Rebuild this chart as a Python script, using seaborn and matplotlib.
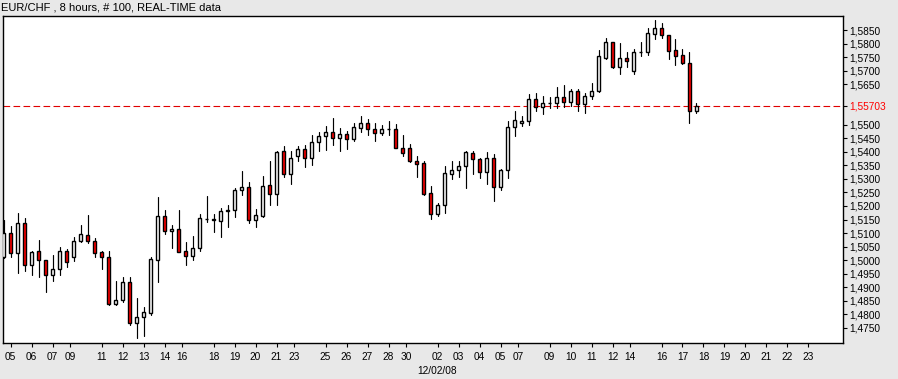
import numpy as np
import pandas as pd
import matplotlib
matplotlib.use("Agg")
import matplotlib.pyplot as plt
import seaborn as sns

# ---------------- data (EUR/CHF, 8-hour candles, 100 bars) ----------------
opens = [1.5011, 1.5100, 1.5025, 1.5137, 1.4980, 1.5033, 1.5000, 1.4943, 1.4966, 1.5033,
         1.5013, 1.5070, 1.5093, 1.5070, 1.5029, 1.5011, 1.4839, 1.4854, 1.4918, 1.4766,
         1.4788, 1.4806, 1.4999, 1.5164, 1.5106, 1.5114, 1.5032, 1.5016, 1.5044, 1.5151,
         1.5150, 1.5146, 1.5183, 1.5186, 1.5258, 1.5270, 1.5149, 1.5164, 1.5277, 1.5244,
         1.5402, 1.5319, 1.5386, 1.5410, 1.5377, 1.5437, 1.5458, 1.5473, 1.5451, 1.5466,
         1.5447, 1.5488, 1.5507, 1.5484, 1.5470, 1.5484, 1.5484, 1.5414, 1.5414, 1.5367,
         1.5358, 1.5247, 1.5169, 1.5203, 1.5319, 1.5332, 1.5347, 1.5397, 1.5373, 1.5327,
         1.5377, 1.5272, 1.5334, 1.5492, 1.5507, 1.5514, 1.5595, 1.5566, 1.5581, 1.5581,
         1.5603, 1.5585, 1.5627, 1.5577, 1.5606, 1.5624, 1.5749, 1.5808, 1.5715, 1.5749,
         1.5699, 1.5769, 1.5769, 1.5837, 1.5859, 1.5834, 1.5775, 1.5757, 1.5729, 1.5550]
highs = [1.5149, 1.5127, 1.5174, 1.5155, 1.5034, 1.5075, 1.5000, 1.5019, 1.5048, 1.5040,
         1.5085, 1.5130, 1.5167, 1.5081, 1.5035, 1.5032, 1.4924, 1.4937, 1.4937, 1.4859,
         1.4828, 1.5011, 1.5232, 1.5186, 1.5129, 1.5186, 1.5067, 1.5089, 1.5170, 1.5237,
         1.5170, 1.5192, 1.5204, 1.5265, 1.5330, 1.5289, 1.5190, 1.5312, 1.5366, 1.5402,
         1.5423, 1.5402, 1.5423, 1.5426, 1.5462, 1.5475, 1.5494, 1.5525, 1.5488, 1.5476,
         1.5507, 1.5534, 1.5521, 1.5507, 1.5499, 1.5514, 1.5504, 1.5463, 1.5430, 1.5386,
         1.5365, 1.5274, 1.5210, 1.5346, 1.5365, 1.5367, 1.5402, 1.5405, 1.5378, 1.5400,
         1.5393, 1.5337, 1.5513, 1.5552, 1.5534, 1.5615, 1.5618, 1.5605, 1.5603, 1.5640,
         1.5649, 1.5631, 1.5633, 1.5618, 1.5655, 1.5775, 1.5822, 1.5808, 1.5801, 1.5770,
         1.5781, 1.5805, 1.5859, 1.5886, 1.5875, 1.5834, 1.5818, 1.5781, 1.5769, 1.5581]
lows = [1.5007, 1.5013, 1.4954, 1.4958, 1.4943, 1.4939, 1.4883, 1.4924, 1.4943, 1.4976,
        1.4995, 1.5065, 1.5062, 1.5011, 1.4967, 1.4834, 1.4834, 1.4846, 1.4760, 1.4710,
        1.4719, 1.4797, 1.4920, 1.5097, 1.5044, 1.5031, 1.4983, 1.5000, 1.5035, 1.5142,
        1.5102, 1.5087, 1.5124, 1.5161, 1.5240, 1.5136, 1.5124, 1.5161, 1.5205, 1.5205,
        1.5309, 1.5281, 1.5368, 1.5344, 1.5350, 1.5402, 1.5408, 1.5424, 1.5402, 1.5411,
        1.5441, 1.5472, 1.5461, 1.5439, 1.5463, 1.5461, 1.5414, 1.5383, 1.5361, 1.5309,
        1.5242, 1.5151, 1.5164, 1.5173, 1.5299, 1.5309, 1.5268, 1.5319, 1.5305, 1.5283,
        1.5220, 1.5259, 1.5305, 1.5457, 1.5494, 1.5500, 1.5553, 1.5540, 1.5562, 1.5562,
        1.5566, 1.5569, 1.5550, 1.5544, 1.5594, 1.5621, 1.5745, 1.5711, 1.5687, 1.5715,
        1.5687, 1.5754, 1.5758, 1.5816, 1.5822, 1.5745, 1.5723, 1.5724, 1.5507, 1.5542]
closes = [1.5100, 1.5025, 1.5137, 1.4980, 1.5029, 1.5000, 1.4943, 1.4966, 1.5033, 1.4992,
          1.5070, 1.5097, 1.5069, 1.5025, 1.5011, 1.4838, 1.4853, 1.4918, 1.4767, 1.4788,
          1.4807, 1.5003, 1.5164, 1.5106, 1.5115, 1.5031, 1.5016, 1.5045, 1.5155, 1.5153,
          1.5151, 1.5182, 1.5184, 1.5258, 1.5270, 1.5149, 1.5166, 1.5273, 1.5244, 1.5399,
          1.5319, 1.5377, 1.5410, 1.5377, 1.5435, 1.5460, 1.5473, 1.5451, 1.5466, 1.5447,
          1.5492, 1.5507, 1.5484, 1.5470, 1.5484, 1.5485, 1.5414, 1.5395, 1.5368, 1.5355,
          1.5245, 1.5169, 1.5203, 1.5321, 1.5334, 1.5347, 1.5398, 1.5373, 1.5327, 1.5377,
          1.5272, 1.5334, 1.5492, 1.5519, 1.5514, 1.5595, 1.5566, 1.5581, 1.5582, 1.5603,
          1.5585, 1.5627, 1.5577, 1.5608, 1.5627, 1.5755, 1.5808, 1.5713, 1.5749, 1.5736,
          1.5768, 1.5770, 1.5838, 1.5859, 1.5832, 1.5773, 1.5754, 1.5728, 1.5550, 1.55703]

last_price = 1.55703
y_ticks = [1.4750, 1.4800, 1.4850, 1.4900, 1.4950, 1.5000, 1.5050, 1.5100, 1.5150,
           1.5200, 1.5250, 1.5300, 1.5350, 1.5400, 1.5450, 1.5500,
           1.5650, 1.5700, 1.5750, 1.5800, 1.5850]
x_tick_labels = ["05", "06", "07", "09", "11", "12", "13", "14", "16", "18", "19", "20",
                 "21", "23", "25", "26", "27", "28", "30", "02", "03", "04", "05", "07",
                 "09", "10", "11", "12", "14", "16", "17", "18", "19", "20", "21", "22", "23"]
x_tick_pos = [1, 4, 7, 9.5, 14, 17, 20, 23, 25.5, 30, 33, 36, 39, 41.5, 46, 49, 52, 55,
              57.5, 62, 65, 68, 71, 73.5, 78, 81, 84, 87, 89.5, 94, 97, 100, 103, 106,
              109, 112, 115]
title = "EUR/CHF , 8 hours, # 100, REAL-TIME data"
date_label = "12/02/08"

# ---------------- build frames ----------------
df = pd.DataFrame({"open": opens, "high": highs, "low": lows, "close": closes})
df["idx"] = np.arange(len(df))
wicks = pd.concat([
    pd.DataFrame({"idx": df["idx"], "price": df["low"]}),
    pd.DataFrame({"idx": df["idx"], "price": df["high"]}),
]).sort_values("idx")

# ---------------- figure ----------------
sns.set_theme(style="white")
plt.rcParams["font.family"] = ["Liberation Sans", "DejaVu Sans"]
W, H = 898, 379
fig = plt.figure(figsize=(W / 100, H / 100), dpi=100, facecolor="#E8E8E8")
L, R, T, B = 2.7, 843, 15.5, 343
ax = fig.add_axes([L / W, 1 - B / H, (R - L) / W, (B - T) / H])
ax.set_facecolor("white")

# wicks via seaborn (one line per candle)
sns.lineplot(data=wicks, x="idx", y="price", units="idx", estimator=None,
             color="black", linewidth=0.85, ax=ax, legend=False, zorder=2)

# bodies
body_bottom = np.minimum(df["open"], df["close"])
body_height = np.abs(df["close"] - df["open"])
fills = np.where(df["close"] < df["open"], "#FF0000", "white")
ax.bar(df["idx"], body_height, bottom=body_bottom, width=0.52, color=fills,
       edgecolor="black", linewidth=1.0, zorder=3)

# last price dashed line
ax.axhline(last_price, color="#E00000", linewidth=0.8, linestyle=(0, (6, 3)), zorder=1)

ax.set_xlim(-0.12, 119.93)
ax.set_ylim(1.46933, 1.59044)
ax.set_xlabel("")
ax.set_ylabel("")

for s in ax.spines.values():
    s.set_color("black")
    s.set_linewidth(1.0)

ax.yaxis.tick_right()
all_y = y_ticks + [last_price]
ax.set_yticks(all_y)
ylabels = [f"{v:.4f}".replace(".", ",") for v in y_ticks] + [f"{last_price:.5f}".replace(".", ",")]
ax.set_yticklabels(ylabels)
ax.set_xticks(x_tick_pos)
ax.set_xticklabels(x_tick_labels)
ax.tick_params(axis="y", which="both", right=True, left=False, length=3, width=0.8,
               color="black", pad=1.8, labelsize=7.3, labelcolor="black")
ax.tick_params(axis="x", which="both", bottom=True, length=3, width=0.8,
               color="black", pad=3.8, labelsize=7.3, labelcolor="black")
ylab = ax.get_yticklabels()
ylab[-1].set_color("#FF0000")
ax.yaxis.get_major_ticks()[-1].tick2line.set_color("#FF0000")

fig.text(1 / W, 1 - 10 / H, title, fontsize=8.0, va="baseline", ha="left", color="black")
fig.text(437.5 / W, 1 - 371.5 / H, date_label, fontsize=7.3, va="center", ha="center",
         color="black")

fig.savefig("out.png", dpi=100, facecolor=fig.get_facecolor())
